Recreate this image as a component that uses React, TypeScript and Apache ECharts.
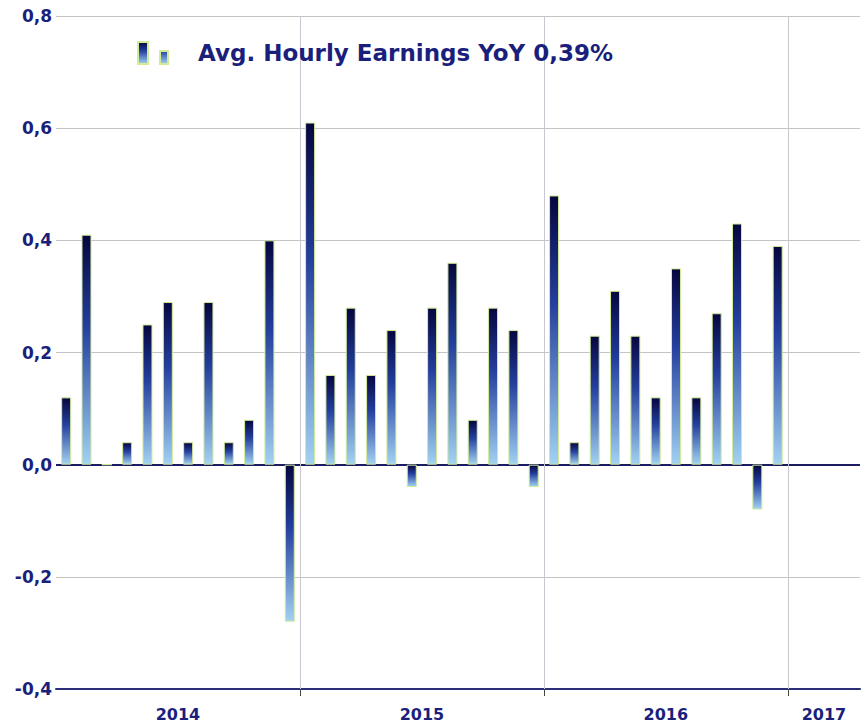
import React, { useEffect, useRef } from "react";
import * as echarts from "echarts";

const years = ["2014", "2015", "2016", "2017"];
const values2014 = [0.12, 0.41, 0.0, 0.04, 0.25, 0.29, 0.04, 0.29, 0.04, 0.08, 0.4, -0.28];
const values2015 = [0.61, 0.16, 0.28, 0.16, 0.24, -0.04, 0.28, 0.36, 0.08, 0.28, 0.24, -0.04];
const values2016 = [0.48, 0.04, 0.23, 0.31, 0.23, 0.12, 0.35, 0.12, 0.27, 0.43, -0.08, 0.39];
const yearBoundaries = [12, 24, 36];
const seriesName = "Avg. Hourly Earnings YoY 0,39%";

const monthlyValues = [...values2014, ...values2015, ...values2016];
const X_MAX = 39.55; // months visible on the axis

const NAVY = "#1b1f7c";
const FONT = "DejaVu Sans";

export default function App() {
  const ref = useRef<HTMLDivElement>(null);
  useEffect(() => {
    if (!ref.current) return;
    const chart = echarts.init(ref.current, undefined, { renderer: "svg" });
    const barGradient = new echarts.graphic.LinearGradient(0, 0, 0, 1, [
      { offset: 0, color: "#06063f" },
      { offset: 0.4, color: "#243f9e" },
      { offset: 1, color: "#a2d2f2" },
    ]);
    const labelValues = years.map((_, i) => (i < 3 ? i * 12 + 6 : (36 + X_MAX) / 2));
    chart.setOption({
      animation: false,
      backgroundColor: "#ffffff",
      grid: { left: 56, right: 7, top: 16, bottom: 35, containLabel: false },
      legend: {
        left: 137,
        top: 41,
        padding: 0,
        itemWidth: 30,
        itemHeight: 22,
        selectedMode: false,
        data: [
          {
            name: seriesName,
            icon: "path://M0,0L10,0L10,22L0,22Z M22,9L30,9L30,22L22,22Z",
          },
        ],
        textStyle: {
          color: NAVY,
          fontFamily: FONT,
          fontWeight: "bold",
          fontSize: 23,
          padding: [0, 0, 10, 25],
        },
      },
      xAxis: {
        type: "value",
        min: 0,
        max: X_MAX,
        interval: 12,
        axisLine: { show: true, onZero: false, lineStyle: { color: "#2b2f7a", width: 2 } },
        axisTick: {
          show: true,
          customValues: yearBoundaries,
          length: 7,
          lineStyle: { color: "#444", width: 1 },
        },
        axisLabel: {
          customValues: labelValues,
          formatter: (v: number) => years[Math.min(years.length - 1, Math.floor(v / 12))],
          color: NAVY,
          fontFamily: FONT,
          fontWeight: "bold",
          fontSize: 16,
          margin: 17,
        },
        splitLine: { show: false },
      },
      yAxis: {
        type: "value",
        min: -0.4,
        max: 0.8,
        interval: 0.2,
        axisLine: { show: false },
        axisTick: { show: false },
        axisLabel: {
          formatter: (v: number) => v.toFixed(1).replace(".", ","),
          color: NAVY,
          fontFamily: FONT,
          fontWeight: "bold",
          fontSize: 17,
          margin: 4,
        },
        splitLine: { show: true, lineStyle: { color: "#c4c4c4", width: 1 } },
      },
      series: [
        {
          name: seriesName,
          type: "bar",
          barWidth: 10,
          data: monthlyValues.map((v, i) => [i + 0.5, v]),
          itemStyle: {
            color: barGradient,
            borderColor: "#d2eb98",
            borderWidth: 1,
          },
          markLine: {
            silent: true,
            z: 1,
            symbol: ["none", "none"],
            label: { show: false },
            data: [
              { yAxis: 0, lineStyle: { color: "#1c1c60", width: 2, type: "solid" } },
              ...yearBoundaries.map((b) => ({
                xAxis: b,
                lineStyle: { color: "#c8c8d0", width: 1, type: "solid" },
              })),
            ],
          },
        },
      ],
    });
    return () => chart.dispose();
  }, []);
  return (
    <div
      ref={ref}
      style={{ position: "absolute", left: 0, top: 0, width: 867, height: 724, background: "#fff" }}
    />
  );
}
